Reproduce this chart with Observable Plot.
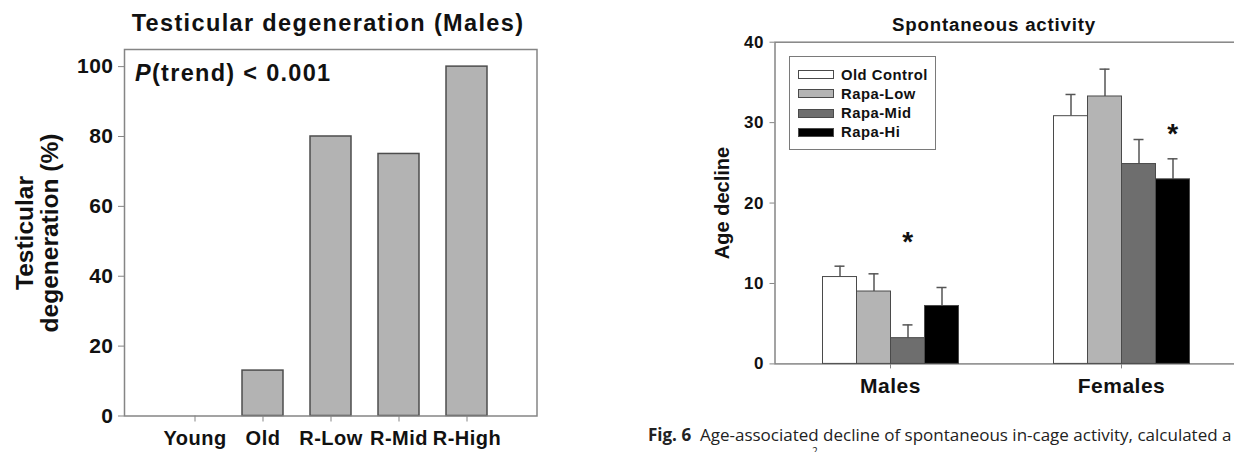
<!DOCTYPE html>
<html><head><meta charset="utf-8">
<script src="https://cdn.jsdelivr.net/npm/d3@7"></script>
<script src="https://cdn.jsdelivr.net/npm/@observablehq/plot@0.6"></script>
<style>
html,body{margin:0;padding:0;background:#fff;}
#root{position:relative;width:1234px;height:452px;overflow:hidden;font-family:"Liberation Sans",Arial,sans-serif;font-weight:bold;color:#111;}
.abs{position:absolute;white-space:nowrap;}
#root svg{position:absolute;top:0;}
</style></head><body><div id="root"></div>
<script>
// ---------- data ----------
const leftCategories = ["Young", "Old", "R-Low", "R-Mid", "R-High"];
const leftValues = [0, 13, 80, 75, 100];
const leftTicks = [0, 20, 40, 60, 80, 100];

const groups = ["Males", "Females"];
const series = ["Old Control", "Rapa-Low", "Rapa-Mid", "Rapa-Hi"];
const seriesColors = ["#ffffff", "#b4b4b4", "#6e6e6e", "#000000"];
const malesMean = [10.8, 9.0, 3.2, 7.2];
const malesErr = [1.35, 2.2, 1.65, 2.3];
const femalesMean = [30.8, 33.25, 24.85, 22.95];
const femalesErr = [2.7, 3.4, 3.05, 2.55];
const rightTicks = [0, 10, 20, 30, 40];
const starGroups = ["Males", "Females"];
const starSeries = ["Rapa-Mid", "Rapa-Hi"];
const starValues = [16.0, 29.4];

// ---------- helpers ----------
const root = document.getElementById("root");
function add(el, left, top) {
  el.style.left = left + "px";
  el.style.top = top + "px";
  root.appendChild(el);
  return el;
}
function div(html, cls, css) {
  const d = document.createElement("div");
  d.className = cls || "abs";
  d.innerHTML = html;
  Object.assign(d.style, css || {});
  return d;
}
const axisGray = "#858585";
const plotStyle = {fontFamily: '"Liberation Sans", Arial, sans-serif', fontWeight: "bold", background: "transparent", color: "#111", overflow: "visible", letterSpacing: "0.5px"};

// ---------- left chart ----------
const leftData = leftCategories.map((c, i) => ({category: c, value: leftValues[i]}));
const left = Plot.plot({
  width: 560, height: 452,
  marginLeft: 124, marginRight: 23.5, marginTop: 49, marginBottom: 36.5,
  x: {domain: leftCategories, paddingInner: 0.397, paddingOuter: 0.7},
  y: {domain: [0, 104.9]},
  style: plotStyle,
  marks: [
    Plot.barY(leftData.filter(d => d.value > 0), {x: "category", y: "value", fill: "#b3b3b3", stroke: "#4d4d4d", strokeWidth: 1.5}),
    Plot.frame({stroke: axisGray, strokeWidth: 1.5}),
    Plot.axisY({ticks: leftTicks, tickSize: 6, tickPadding: 5, fontSize: 21, stroke: axisGray, fill: "#111", label: null, tickFormat: d => String(d)}),
    Plot.axisX({tickSize: 6, tickPadding: 9, fontSize: 20, stroke: axisGray, fill: "#111", label: null})
  ]
});
left.style.left = "0px";
root.appendChild(left);

// left texts
add(div("Testicular degeneration (Males)", "abs", {fontSize: "23.5px", lineHeight: "23.5px", letterSpacing: "1.35px", transform: "translateX(-50%)"}), 328, 11.8);
add(div("<i>P</i>(trend) &lt; 0.001", "abs", {fontSize: "23.5px", lineHeight: "23.5px", letterSpacing: "1.3px"}), 135, 61.8);
add(div("Testicular<br>degeneration (%)", "abs", {fontSize: "24.5px", lineHeight: "25px", textAlign: "center", transform: "translate(-50%,-50%) rotate(-90deg)"}), 37, 232.5);

// ---------- right chart ----------
const rightDims = {width: 600, height: 452, marginLeft: 134.5, marginRight: 3, marginTop: 41.7, marginBottom: 88.6};
const rightAxes = Plot.plot({
  ...rightDims,
  x: {domain: groups, paddingInner: 0.402, paddingOuter: 0.2},
  y: {domain: [0, 40]},
  style: plotStyle,
  marks: [
    Plot.frame({stroke: axisGray, strokeWidth: 1.5}),
    Plot.axisY({ticks: rightTicks, tickSize: 5, tickPadding: 6, fontSize: 17, stroke: axisGray, fill: "#111", label: null}),
    Plot.axisX({tickSize: 5, tickPadding: 9, fontSize: 21, stroke: axisGray, fill: "#111", label: null})
  ]
});
rightAxes.style.left = "640px";
root.appendChild(rightAxes);

const rightData = groups.flatMap((g, gi) => series.map((s, si) => ({
  group: g, series: s,
  value: (gi ? femalesMean : malesMean)[si],
  err: (gi ? femalesErr : malesErr)[si]
})));
const stars = starGroups.map((g, i) => ({group: g, series: starSeries[i], value: starValues[i]}));
const rightBars = Plot.plot({
  ...rightDims,
  fx: {domain: groups, paddingInner: 0.402, paddingOuter: 0.2, axis: null},
  x: {domain: series, padding: 0, axis: null},
  y: {domain: [0, 40], axis: null},
  color: {domain: series, range: seriesColors},
  style: plotStyle,
  marks: [
    Plot.ruleX(rightData, {fx: "group", x: "series", y1: "value", y2: d => d.value + d.err, stroke: "#555", strokeWidth: 1.5}),
    Plot.tickY(rightData, {fx: "group", x: "series", y: d => d.value + d.err, stroke: "#555", strokeWidth: 1.5, insetLeft: 12, insetRight: 12}),
    Plot.barY(rightData, {fx: "group", x: "series", y: "value", fill: "series", stroke: "#4a4a4a", strokeWidth: 1}),
    Plot.text(stars, {fx: "group", x: "series", y: "value", text: () => "*", fontSize: 28, dy: 7, fill: "#111"})
  ]
});
rightBars.style.left = "640px";
root.appendChild(rightBars);

// right texts
add(div("Spontaneous activity", "abs", {fontSize: "18.7px", lineHeight: "18.7px", letterSpacing: "0.8px", transform: "translateX(-50%)"}), 994, 15.9);
add(div("Age decline", "abs", {fontSize: "20px", lineHeight: "20px", transform: "translate(-50%,-50%) rotate(-90deg)"}), 721.6, 202.5);

// legend
const legend = div("", "abs", {width: "145px", height: "92px", border: "1.5px solid #7a7a7a", background: "#fff", boxSizing: "content-box"});
series.forEach((s, i) => {
  const row = div("", "abs", {left: "8px", top: (9.5 + i * 19.2) + "px", height: "17px", display: "flex", alignItems: "center"});
  const sw = document.createElement("span");
  Object.assign(sw.style, {display: "inline-block", width: "34px", height: "7px", background: seriesColors[i], border: "1px solid #4a4a4a", marginRight: "7px"});
  const tx = document.createElement("span");
  tx.textContent = s;
  Object.assign(tx.style, {fontSize: "14.8px", letterSpacing: "0.5px"});
  row.appendChild(sw); row.appendChild(tx);
  legend.appendChild(row);
});
add(legend, 789, 55.7);

// caption
add(div('<b>Fig. 6</b>&nbsp; Age-associated decline of spontaneous in-cage activity, calculated a', "abs", {fontFamily: '"Open Sans", "Noto Sans", sans-serif', fontWeight: "normal", fontSize: "17px", lineHeight: "17px", color: "#222"}), 648, 425.9);
add(div("2", "abs", {fontFamily: '"Open Sans", sans-serif', fontWeight: "normal", fontSize: "10px", lineHeight: "10px", color: "#222"}), 812, 446);
</script>
</body></html>
